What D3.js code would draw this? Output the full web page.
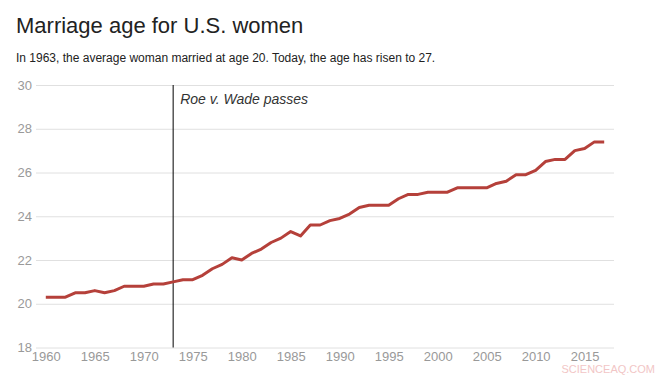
<!DOCTYPE html>
<html>
<head>
<meta charset="utf-8">
<script src="https://cdn.jsdelivr.net/npm/d3@7"></script>
<style>
  body { margin: 0; background: #fff; font-family: "Liberation Sans", Arial, sans-serif; }
  svg { display: block; }
</style>
</head>
<body>
<script>
// data
let years = d3.range(1960, 2018)
let ages = [20.3, 20.3, 20.3, 20.5, 20.5, 20.6, 20.5, 20.6, 20.8, 20.8,
            20.8, 20.9, 20.9, 21.0, 21.1, 21.1, 21.3, 21.6, 21.8, 22.1,
            22.0, 22.3, 22.5, 22.8, 23.0, 23.3, 23.1, 23.6, 23.6, 23.8,
            23.9, 24.1, 24.4, 24.5, 24.5, 24.5, 24.8, 25.0, 25.0, 25.1,
            25.1, 25.1, 25.3, 25.3, 25.3, 25.3, 25.5, 25.6, 25.9, 25.9,
            26.1, 26.5, 26.6, 26.6, 27.0, 27.1, 27.4, 27.4]
let xTicks = [1960, 1965, 1970, 1975, 1980, 1985, 1990, 1995, 2000, 2005, 2010, 2015]
let yTicks = [18, 20, 22, 24, 26, 28, 30]
let eventYear = 1973
let eventLabel = "Roe v. Wade passes"

let data = years.map((y, i) => ({year: y, age: ages[i]}))

let w = 671
let h = 378
let svg = d3.select("body").append("svg")
    .attr("width", w)
    .attr("height", h)

// title
svg.append("text")
    .attr("x", 16)
    .attr("y", 33)
    .attr("font-size", 22)
    .attr("fill", "#222")
    .text("Marriage age for U.S. women")

svg.append("text")
    .attr("x", 16)
    .attr("y", 62)
    .attr("font-size", 12)
    .attr("fill", "#222")
    .text("In 1963, the average woman married at age 20. Today, the age has risen to 27.")

let x = d3.scaleLinear().domain([1959, 2018]).range([36, 614])
let y = d3.scaleLinear().domain([18, 30]).range([347.5, 85])

// gridlines
svg.append("g")
    .attr("class", "grid")
    .attr("transform", "translate(36,0)")
    .call(d3.axisLeft(y).tickValues(yTicks).tickSize(-(614 - 36)).tickFormat(""))
    .call(g => g.select(".domain").remove())
    .call(g => g.selectAll("line").attr("stroke", "#e0e0e0"))

// y labels
svg.append("g")
    .attr("transform", "translate(32,0)")
    .call(d3.axisLeft(y).tickValues(yTicks).tickSize(0).tickPadding(0))
    .call(g => g.select(".domain").remove())
    .call(g => g.selectAll("text")
        .attr("fill", "#999")
        .attr("font-size", 13)
        .attr("font-family", "Liberation Sans, Arial, sans-serif"))

// x labels
svg.append("g")
    .attr("transform", "translate(0,348)")
    .call(d3.axisBottom(x).tickValues(xTicks).tickFormat(d3.format("d")).tickSize(0).tickPadding(4))
    .call(g => g.select(".domain").remove())
    .call(g => g.selectAll("text")
        .attr("fill", "#999")
        .attr("font-size", 13)
        .attr("font-family", "Liberation Sans, Arial, sans-serif"))

// event line
svg.append("line")
    .attr("x1", x(eventYear))
    .attr("x2", x(eventYear))
    .attr("y1", y(30))
    .attr("y2", y(18))
    .attr("stroke", "#000")
    .attr("stroke-width", 1)

svg.append("text")
    .attr("x", x(eventYear) + 7)
    .attr("y", 104)
    .attr("font-size", 14)
    .attr("font-style", "italic")
    .attr("fill", "#333")
    .text(eventLabel)

// line
let line = d3.line()
    .x(d => x(d.year))
    .y(d => y(d.age))

svg.append("path")
    .datum(data)
    .attr("fill", "none")
    .attr("stroke", "#b5403a")
    .attr("stroke-width", 3)
    .attr("stroke-linejoin", "round")
    .attr("d", line)

// watermark
svg.append("text")
    .attr("x", 655)
    .attr("y", 373)
    .attr("text-anchor", "end")
    .attr("font-size", 11)
    .attr("fill", "#f2c6c6")
    .text("SCIENCEAQ.COM")
</script>
</body>
</html>
